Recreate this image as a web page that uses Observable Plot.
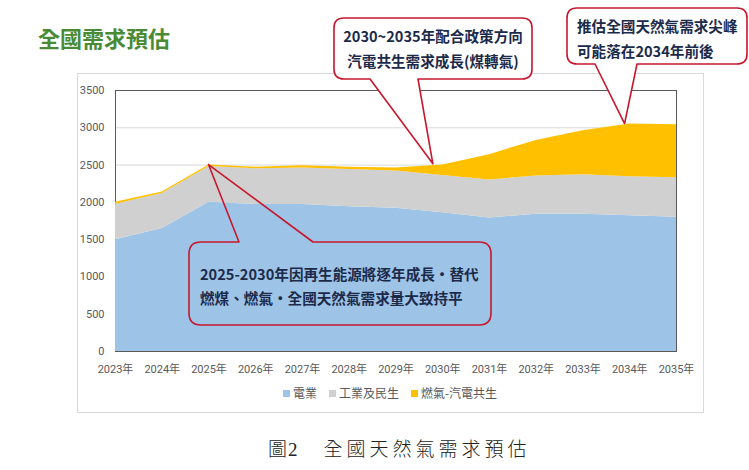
<!DOCTYPE html>
<html><head><meta charset="utf-8">
<script src="https://cdn.jsdelivr.net/npm/d3@7"></script>
<script src="https://cdn.jsdelivr.net/npm/@observablehq/plot@0.6"></script>
<style>
body{margin:0;background:#fff;width:749px;height:470px;position:relative;overflow:hidden;font-family:"Noto Sans CJK TC",sans-serif}
#title{position:absolute;left:38px;top:25px;font-size:22px;line-height:24px;font-weight:bold;color:#4a8a34;}
#frame{position:absolute;left:77px;top:73px;width:627px;height:340px;border:1px solid #d9d9d9;box-sizing:border-box}
#chart{position:absolute;left:77px;top:73px}
#legend{position:absolute;left:77px;width:626px;top:385px;display:flex;justify-content:center;gap:12px;font-size:12px;line-height:16px;color:#595959}
#legend span.sw{display:inline-block;width:7px;height:7px;margin-right:3px;vertical-align:1px}
#caption{position:absolute;left:268px;top:437px;font-size:19px;line-height:26px;color:#222;font-weight:300;font-family:serif,"Noto Sans CJK TC"}
#caption .a{letter-spacing:1px;margin-right:25px}
#caption .b{letter-spacing:4px}
#overlay{position:absolute;left:0;top:0}
</style></head>
<body>
<div id="title">全國需求預估</div>
<div id="frame"></div>
<div id="chart"></div>
<div id="legend"></div>
<div id="caption"><span class="a">圖2</span><span class="b">全國天然氣需求預估</span></div>
<script>
const years = [2023,2024,2025,2026,2027,2028,2029,2030,2031,2032,2033,2034,2035];
const power    = [1500,1650,2000,1970,1970,1940,1920,1860,1790,1840,1840,1820,1800];
const industry = [475,470,480,480,490,500,500,500,510,515,530,525,530];
const cogen    = [25,20,20,20,30,30,40,140,340,475,590,705,710];
const seriesNames = ["電業","工業及民生","燃氣-汽電共生"];
const seriesColors = ["#9dc3e6","#d0d0d0","#ffc000"];
const yTicks = [0,500,1000,1500,2000,2500,3000,3500];

const noteLines = [
  ["2025-2030年因再生能源將逐年成長・替代","燃煤、燃氣・全國天然氣需求量大致持平"],
  ["2030~2035年配合政策方向","汽電共生需求成長(煤轉氣)"],
  ["推估全國天然氣需求尖峰","可能落在2034年前後"]
];
const noteYears = [2025, 2029.8, 2033.9];
const noteValues = [2500, 2510, 3050];

const seriesValues = [power, industry, cogen];
const data = [];
seriesNames.forEach((s,i)=>years.forEach((yr,j)=>data.push({year:yr, series:s, value:seriesValues[i][j]})));

const chart = Plot.plot({
  width:626, height:340, marginLeft:38, marginRight:27, marginTop:17, marginBottom:62,
  style:{fontFamily:"Roboto, 'Noto Sans CJK TC', sans-serif", fontSize:"11px", color:"#595959", background:"transparent"},
  x:{domain:[2023,2035]},
  y:{domain:[0,3500]},
  color:{domain:seriesNames, range:seriesColors},
  marks:[
    Plot.ruleY(yTicks.slice(1), {stroke:"#d9d9d9"}),
    Plot.frame({stroke:"#595959"}),
    Plot.areaY(data, {x:"year", y:"value", fill:"series", order:seriesNames}),
    Plot.axisY({ticks:yTicks, tickSize:0, tickPadding:11, tickFormat:d=>String(d), label:null}),
    Plot.axisX({ticks:years, tickSize:0, tickPadding:14, tickFormat:d=>d+"年", label:null})
  ]
});
document.getElementById("chart").appendChild(chart);

// legend
const leg = d3.select("#legend");
seriesNames.forEach((s,i)=>{
  const item = leg.append("div");
  item.append("span").attr("class","sw").style("background",seriesColors[i]);
  item.append("span").text(s);
});

// callouts
const sx = chart.scale("x"), sy = chart.scale("y");
const px = v => 77 + sx.apply(v), py = v => 73 + sy.apply(v);
const boxes = [
  {x:189, y:242, w:302, h:83, r:12, side:"top", b1:239, b2:313, fill:"none", anchor:"start", tx:200, ty:[273,297]},
  {x:334, y:18, w:198, h:61, r:10, side:"bottom", b1:370, b2:418, fill:"#fff", anchor:"middle", tx:433, ty:[35,60]},
  {x:567, y:8, w:180, h:56, r:10, side:"bottom", b1:595, b2:637, fill:"#fff", anchor:"start", tx:577, ty:[25,50]}
];
const svg = d3.select("body").append("svg").attr("id","overlay").attr("width",749).attr("height",470);
boxes.forEach((b,i)=>{
  const ax = px(noteYears[i]), ay = py(noteValues[i]);
  const {x,y,w,h,r} = b;
  let p;
  if (b.side === "top") {
    p = `M${x+r},${y} H${b.b1} L${ax},${ay} L${b.b2},${y} H${x+w-r} Q${x+w},${y} ${x+w},${y+r} V${y+h-r} Q${x+w},${y+h} ${x+w-r},${y+h} H${x+r} Q${x},${y+h} ${x},${y+h-r} V${y+r} Q${x},${y} ${x+r},${y} Z`;
  } else {
    p = `M${x+r},${y} H${x+w-r} Q${x+w},${y} ${x+w},${y+r} V${y+h-r} Q${x+w},${y+h} ${x+w-r},${y+h} H${b.b2} L${ax},${ay} L${b.b1},${y+h} H${x+r} Q${x},${y+h} ${x},${y+h-r} V${y+r} Q${x},${y} ${x+r},${y} Z`;
  }
  svg.append("path").attr("d",p).attr("fill",b.fill).attr("stroke","#c8172c").attr("stroke-width",1.6).attr("stroke-linejoin","round");
  noteLines[i].forEach((t,k)=>{
    svg.append("text").attr("x",b.tx).attr("y",b.ty[k]).attr("dominant-baseline","central")
      .attr("text-anchor",b.anchor).attr("font-size",14.6).attr("font-weight","bold")
      .attr("font-family","'Noto Sans CJK TC', sans-serif").attr("fill","#1c2a4a").text(t);
  });
});
</script>
</body></html>
